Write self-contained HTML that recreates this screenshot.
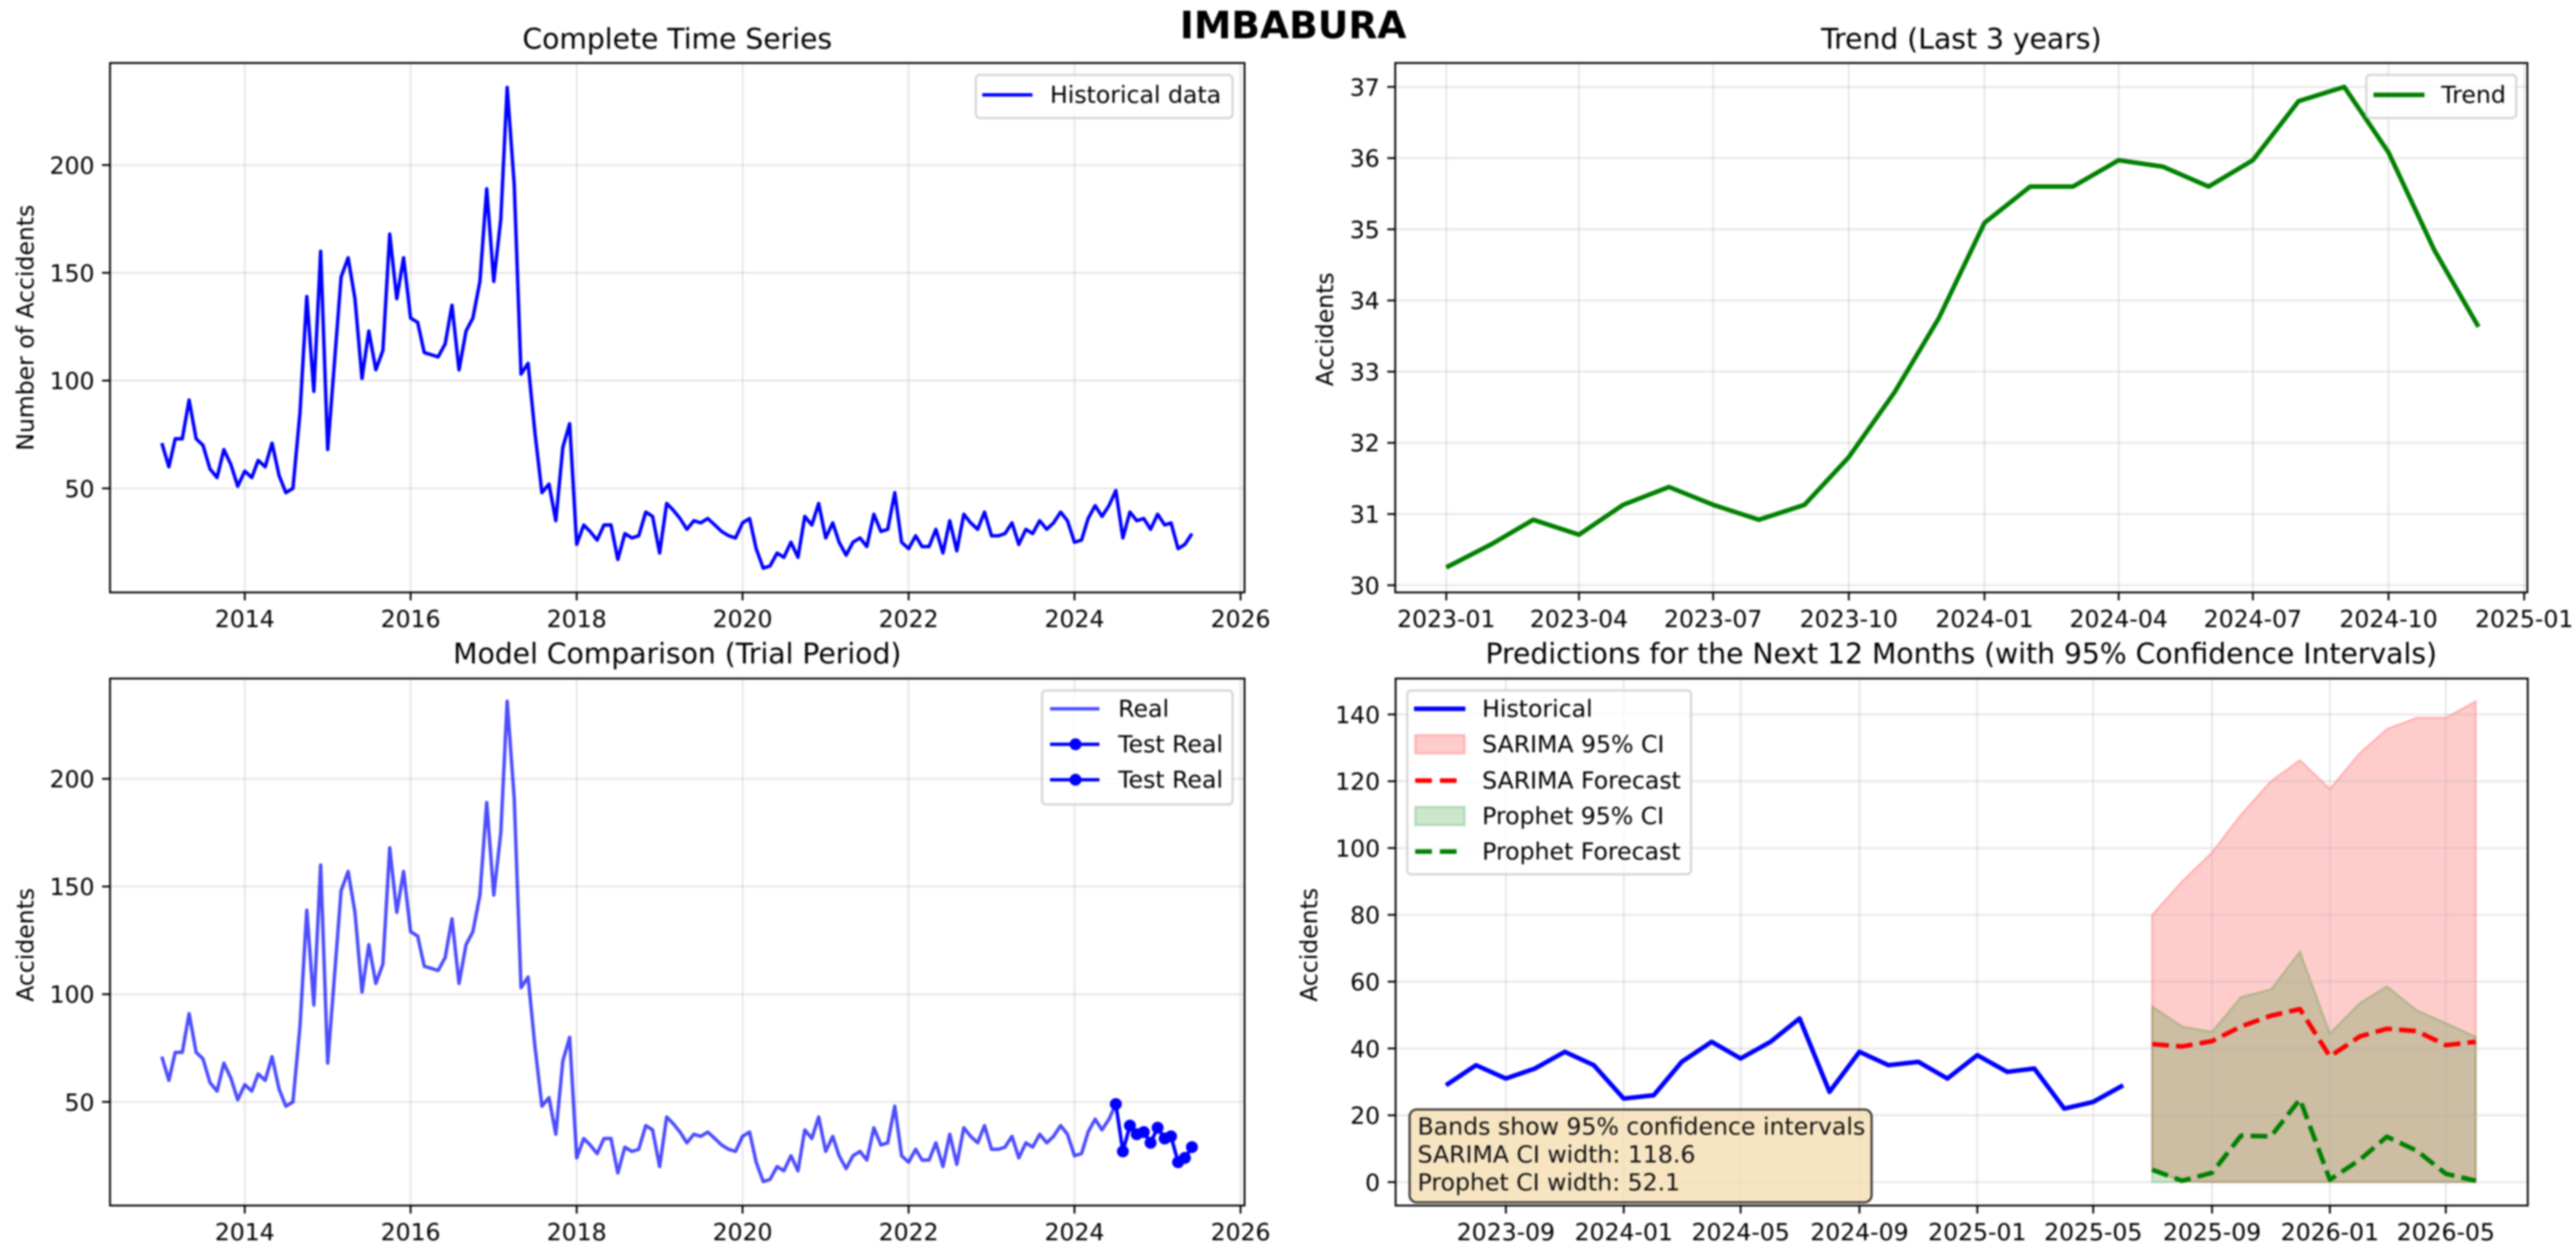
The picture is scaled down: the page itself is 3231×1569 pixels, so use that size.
<!DOCTYPE html>
<html lang="en">
<head>
<meta charset="utf-8">
<title>IMBABURA</title>
<style>
html,body{margin:0;padding:0;background:#fff;width:3231px;height:1569px;overflow:hidden}
svg{display:block;filter:blur(1.1px)}
text{font-family:"DejaVu Sans","Liberation Sans",sans-serif;fill:#000}
.t{font-size:35.4px;text-anchor:middle}
.a{font-size:29.5px;text-anchor:middle}
.l{font-size:29.6px;dominant-baseline:central}
.b{font-size:29.6px;fill:#111}
.frame{fill:none;stroke:#000;stroke-width:2.3}
.leg{fill:#fff;fill-opacity:.8;stroke:#ccc;stroke-opacity:.8;stroke-width:2.8}
</style>
</head>
<body>
<svg xmlns="http://www.w3.org/2000/svg" width="3231" height="1569" viewBox="0 0 3231 1569">
  <rect width="3231" height="1569" fill="#fff"/>
  <text x="1622" y="48" text-anchor="middle" font-weight="700" font-size="47.2">IMBABURA</text>

  <!-- Panel 1 -->
  <g>
    <text class="t" x="849.5" y="61">Complete Time Series</text>
    <text class="a" transform="translate(42 411) rotate(-90)">Number of Accidents</text>
    <g id="p1-grid"></g>
    <g id="p1-marks"></g>
    <rect class="frame" x="138" y="79" width="1423" height="664"/>
    <g>
      <rect class="leg" x="1224" y="94" width="322" height="54" rx="5"/>
      <line x1="1232" x2="1295" y1="119" y2="119" stroke="#00f" stroke-width="4.3"/>
      <text class="l" x="1317" y="119">Historical data</text>
    </g>
  </g>

  <!-- Panel 2 -->
  <g>
    <text class="t" x="2460" y="61">Trend (Last 3 years)</text>
    <text class="a" transform="translate(1672 413) rotate(-90)">Accidents</text>
    <g id="p2-grid"></g>
    <g id="p2-marks"></g>
    <rect class="frame" x="1750" y="79" width="1420" height="664"/>
    <g>
      <rect class="leg" x="2968" y="94" width="188" height="54" rx="5"/>
      <line x1="2977" x2="3041" y1="119" y2="119" stroke="#008000" stroke-width="5.7"/>
      <text class="l" x="3062" y="119">Trend</text>
    </g>
  </g>

  <!-- Panel 3 -->
  <g>
    <text class="t" x="849.5" y="832">Model Comparison (Trial Period)</text>
    <text class="a" transform="translate(42 1185) rotate(-90)">Accidents</text>
    <g id="p3-grid"></g>
    <g id="p3-marks"></g>
    <rect class="frame" x="138" y="851" width="1423" height="661"/>
    <g>
      <rect class="leg" x="1307" y="866" width="239" height="143" rx="5"/>
      <line x1="1317" x2="1379" y1="889" y2="889" stroke="#00f" stroke-opacity=".7" stroke-width="4.3"/>
      <text class="l" x="1402.5" y="889">Real</text>
      <line x1="1317" x2="1379" y1="933.5" y2="933.5" stroke="#00f" stroke-width="4.3"/>
      <circle cx="1349" cy="933.5" r="7.5" fill="#00f"/>
      <text class="l" x="1402.5" y="933.5">Test Real</text>
      <line x1="1317" x2="1379" y1="978" y2="978" stroke="#00f" stroke-width="4.3"/>
      <circle cx="1349" cy="978" r="7.5" fill="#00f"/>
      <text class="l" x="1402.5" y="978">Test Real</text>
    </g>
  </g>

  <!-- Panel 4 -->
  <g>
    <text class="t" x="2460" y="832">Predictions for the Next 12 Months (with 95% Confidence Intervals)</text>
    <text class="a" transform="translate(1652 1185) rotate(-90)">Accidents</text>
    <g id="p4-fills"></g>
    <g id="p4-grid"></g>
    <g id="p4-marks"></g>
    <rect class="frame" x="1750.5" y="851" width="1420" height="661"/>
    <g>
      <rect class="leg" x="1765" y="866" width="356" height="230.5" rx="5"/>
      <line x1="1773.5" x2="1838" y1="889" y2="889" stroke="#00f" stroke-width="5.7"/>
      <text class="l" x="1859" y="889">Historical</text>
      <rect x="1775" y="922" width="62" height="23" fill="#f00" fill-opacity=".2" stroke="#f00" stroke-opacity=".2" stroke-width="2.8"/>
      <text class="l" x="1859" y="933.5">SARIMA 95% CI</text>
      <line x1="1775" x2="1837" y1="979" y2="979" stroke="#f00" stroke-width="5.7" stroke-dasharray="21 10"/>
      <text class="l" x="1859" y="979">SARIMA Forecast</text>
      <rect x="1775" y="1012" width="62" height="23" fill="#008000" fill-opacity=".2" stroke="#008000" stroke-opacity=".2" stroke-width="2.8"/>
      <text class="l" x="1859" y="1023.6">Prophet 95% CI</text>
      <line x1="1775" x2="1837" y1="1068" y2="1068" stroke="#008000" stroke-width="5.7" stroke-dasharray="21 10"/>
      <text class="l" x="1859" y="1068">Prophet Forecast</text>
    </g>
    <g>
      <rect x="1768" y="1391.5" width="579.5" height="116.5" rx="9" fill="#f5deb3" fill-opacity=".8" stroke="#000" stroke-opacity=".75" stroke-width="2.8"/>
      <text class="b" x="1778" y="1423">Bands show 95% confidence intervals</text>
      <text class="b" x="1778" y="1458">SARIMA CI width: 118.6</text>
      <text class="b" x="1778" y="1493">Prophet CI width: 52.1</text>
    </g>
  </g>
</svg>

<script>
// ---- Data ----
const historyStart = [2013, 0];
const monthlyAccidents = [
  71,60,73,73,91,73,70,59,55,68,61,51,
  58,55,63,60,71,56,48,50,85,139,95,160,
  68,110,148,157,138,101,123,105,114,168,138,157,
  129,127,113,112,111,117,135,105,123,129,146,189,
  146,175,236,191,103,108,76,48,52,35,69,80,
  24,33,30,26,33,33,17,29,27,28,39,37,
  20,43,40,36,31,35,34,36,33,30,28,27,
  34,36,22,13,14,20,18,25,18,37,33,43,
  27,34,25,19,25,27,23,38,30,31,48,25,
  22,28,23,23,31,20,35,21,38,34,31,39,
  28,28,29,34,24,31,29,35,31,34,39,35,
  25,26,36,42,37,42,49,27,39,35,36,31,
  38,33,34,22,24,29
];
const testStartIndex = 138;
const trendStart = [2023, 0];
const trendValues = [30.25,30.58,30.92,30.71,31.13,31.38,31.13,30.92,31.13,31.8,32.71,33.75,35.09,35.6,35.6,35.97,35.88,35.6,35.97,36.8,37,36.08,34.71,33.63];
const recentStartIndex = 126;
const forecastStart = [2025, 6];
const sarimaUpper = [80,90,98.7,110,120,126.3,117.7,128.4,135.6,139,139,143.9];
const sarimaLower = [3.5,0.3,0,0,0,0,0,0,0,0,0,0];
const sarimaForecast = [41.3,40.6,42.2,46.6,49.8,51.8,37.6,43.6,45.9,45.2,41,42];
const prophetUpper = [52.6,46.6,45,55.4,57.7,69,44.5,53.6,58.6,51.4,47.6,43.5];
const prophetLower = [0,0,0,0,0,0,0,0,0,0,0,0];
const prophetForecast = [3.7,0.4,2.8,13.9,13.7,24.8,0.7,6.7,13.6,9.4,2.5,0.4];

// ---- Tick labels ----
const yearTicks = ['2014','2016','2018','2020','2022','2024','2026'];
const accidentTicks = [50,100,150,200];
const trendXTicks = ['2023-01','2023-04','2023-07','2023-10','2024-01','2024-04','2024-07','2024-10','2025-01'];
const trendYTicks = [30,31,32,33,34,35,36,37];
const forecastXTicks = ['2023-09','2024-01','2024-05','2024-09','2025-01','2025-05','2025-09','2026-01','2026-05'];
const forecastYTicks = [0,20,40,60,80,100,120,140];

// ---- Helpers ----
const NS = 'http://www.w3.org/2000/svg';
const DAY = 86400000;
function days(y, m) { return Date.UTC(y, m, 1) / DAY; }
function parseTick(s) { const p = s.split('-'); return days(+p[0], p[1] ? +p[1] - 1 : 0); }
function monthAt(start, i) { return days(start[0], start[1] + i); }
function mk(parent, tag, attrs, text) {
  const el = document.createElementNS(NS, tag);
  for (const k in attrs) el.setAttribute(k, attrs[k]);
  if (text !== undefined) el.textContent = text;
  parent.appendChild(el);
  return el;
}
function linearScale(d0, r0, d1, r1) { return function (v) { return r0 + (v - d0) * (r1 - r0) / (d1 - d0); }; }
function pts(n, xf, yf) {
  const out = [];
  for (let i = 0; i < n; i++) out.push(xf(i).toFixed(2) + ',' + yf(i).toFixed(2));
  return out;
}

function drawAxes(id, box, xTicks, yTicks, xs, ys) {
  const g = document.getElementById(id);
  xTicks.forEach(function (t) {
    const x = xs(parseTick(t));
    const grid = mk(g, 'line', { x1: x, x2: x, y1: box.top, y2: box.bottom, stroke: '#b0b0b0', 'stroke-opacity': .3, 'stroke-width': 2.3 });
    
    
    const tick = mk(g, 'line', { x1: x, x2: x, y1: box.bottom, y2: box.bottom + 10, stroke: '#000', 'stroke-width': 2.3 });
    
    
    const label = mk(g, 'text', { x: x, y: box.bottom + 43.5, 'font-size': 29.5, 'text-anchor': 'middle' }, t);
    
    
  });
  yTicks.forEach(function (t) {
    const y = ys(t);
    const grid = mk(g, 'line', { x1: box.left, x2: box.right, y1: y, y2: y, stroke: '#b0b0b0', 'stroke-opacity': .3, 'stroke-width': 2.3 });
    
    
    const tick = mk(g, 'line', { x1: box.left - 10, x2: box.left, y1: y, y2: y, stroke: '#000', 'stroke-width': 2.3 });
    
    
    const label = mk(g, 'text', { x: box.left - 19.5, y: y + 10.8, 'font-size': 29.5, 'text-anchor': 'end' }, String(t));
    
    
  });
}

function series(parent, n, xf, yf, style) {
  const base = { points: pts(n, xf, yf).join(' '), fill: 'none', 'stroke-linejoin': 'round' };
  for (const k in style) base[k] = style[k];
  return mk(parent, 'polyline', base);
}

// ---- Panel 1: complete series ----
const p1Box = { left: 138, right: 1561, top: 79, bottom: 743 };
const p1X = linearScale(days(2014, 0), 307, days(2026, 0), 1556);
const p1Y = linearScale(50, 612.5, 200, 207);
drawAxes('p1-grid', p1Box, yearTicks, accidentTicks, p1X, p1Y);
const p1Line = series(document.getElementById('p1-marks'), monthlyAccidents.length,
  function (i) { return p1X(monthAt(historyStart, i)); },
  function (i) { return p1Y(monthlyAccidents[i]); },
  { stroke: '#00f', 'stroke-width': 4.3 });



// ---- Panel 2: trend ----
const p2Box = { left: 1750, right: 3170, top: 79, bottom: 743 };
const p2X = linearScale(days(2023, 0), 1814, days(2025, 0), 3166);
const p2Y = linearScale(30, 734, 37, 109);
drawAxes('p2-grid', p2Box, trendXTicks, trendYTicks, p2X, p2Y);
const p2Line = series(document.getElementById('p2-marks'), trendValues.length,
  function (i) { return p2X(monthAt(trendStart, i)); },
  function (i) { return p2Y(trendValues[i]); },
  { stroke: '#008000', 'stroke-width': 5.7 });



// ---- Panel 3: model comparison ----
const p3Box = { left: 138, right: 1561, top: 851, bottom: 1512 };
const p3X = p1X;
const p3Y = linearScale(50, 1382, 200, 976.8);
drawAxes('p3-grid', p3Box, yearTicks, accidentTicks, p3X, p3Y);
const p3Marks = document.getElementById('p3-marks');
const p3Real = series(p3Marks, monthlyAccidents.length,
  function (i) { return p3X(monthAt(historyStart, i)); },
  function (i) { return p3Y(monthlyAccidents[i]); },
  { stroke: '#00f', 'stroke-opacity': .7, 'stroke-width': 4.3 });


const testCount = monthlyAccidents.length - testStartIndex;
const p3Test = series(p3Marks, testCount,
  function (i) { return p3X(monthAt(historyStart, testStartIndex + i)); },
  function (i) { return p3Y(monthlyAccidents[testStartIndex + i]); },
  { stroke: '#00f', 'stroke-width': 4.3 });


for (let i = 0; i < testCount; i++) {
  const dot = mk(p3Marks, 'circle', { cx: p3X(monthAt(historyStart, testStartIndex + i)), cy: p3Y(monthlyAccidents[testStartIndex + i]), r: 7.5, fill: '#00f' });
  
  
}

// ---- Panel 4: predictions ----
const p4Box = { left: 1750.5, right: 3170.5, top: 851, bottom: 1512 };
const p4X = linearScale(days(2023, 8), 1888.8, days(2026, 4), 3067.7);
const p4Y = linearScale(0, 1482.6, 140, 896);
drawAxes('p4-grid', p4Box, forecastXTicks, forecastYTicks, p4X, p4Y);
function band(upper, lower, color) {
  const fx = function (i) { return p4X(monthAt(forecastStart, i)); };
  const top = pts(upper.length, fx, function (i) { return p4Y(upper[i]); });
  const bottom = pts(lower.length, fx, function (i) { return p4Y(lower[i]); }).reverse();
  return mk(document.getElementById('p4-fills'), 'polygon', {
    points: top.concat(bottom).join(' '), fill: color, 'fill-opacity': .2, stroke: color, 'stroke-opacity': .2, 'stroke-width': 2.8
  });
}
const sarimaBand = band(sarimaUpper, sarimaLower, '#f00');


const prophetBand = band(prophetUpper, prophetLower, '#008000');


const p4Marks = document.getElementById('p4-marks');
const recentCount = monthlyAccidents.length - recentStartIndex;
const p4Hist = series(p4Marks, recentCount,
  function (i) { return p4X(monthAt(historyStart, recentStartIndex + i)); },
  function (i) { return p4Y(monthlyAccidents[recentStartIndex + i]); },
  { stroke: '#00f', 'stroke-width': 5.7 });


const sarimaLine = series(p4Marks, sarimaForecast.length,
  function (i) { return p4X(monthAt(forecastStart, i)); },
  function (i) { return p4Y(sarimaForecast[i]); },
  { stroke: '#f00', 'stroke-width': 5.7, 'stroke-dasharray': '21 9' });


const prophetLine = series(p4Marks, prophetForecast.length,
  function (i) { return p4X(monthAt(forecastStart, i)); },
  function (i) { return p4Y(prophetForecast[i]); },
  { stroke: '#008000', 'stroke-width': 5.7, 'stroke-dasharray': '21 9' });


</script>
</body>
</html>
